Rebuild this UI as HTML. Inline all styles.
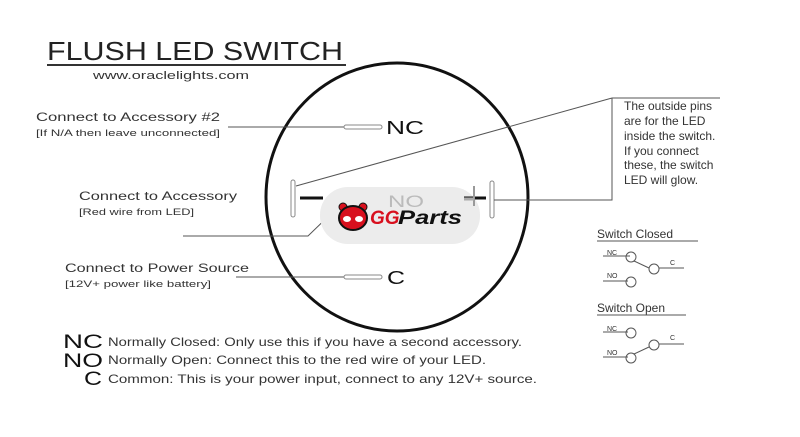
<!DOCTYPE html>
<html><head><style>
body{margin:0;background:#fff}
svg text{font-family:"Liberation Sans",sans-serif}
</style></head><body>
<svg width="800" height="432" viewBox="0 0 800 432" xmlns="http://www.w3.org/2000/svg">
<rect width="800" height="432" fill="#fff"/>
<text x="47" y="60" font-size="26" fill="#222" textLength="296" lengthAdjust="spacingAndGlyphs">FLUSH LED SWITCH</text>
<line x1="47" y1="65" x2="346" y2="65" stroke="#333" stroke-width="2"/>
<text x="93" y="79" font-size="11" fill="#333" textLength="156" lengthAdjust="spacingAndGlyphs">www.oraclelights.com</text>
<ellipse cx="397" cy="197" rx="131" ry="134" fill="none" stroke="#111" stroke-width="3"/>
<text x="36" y="121" font-size="12" fill="#333" textLength="184" lengthAdjust="spacingAndGlyphs">Connect to Accessory #2</text>
<text x="36" y="136" font-size="9" fill="#333" textLength="184" lengthAdjust="spacingAndGlyphs">[If N/A then leave unconnected]</text>
<text x="79" y="200" font-size="12" fill="#333" textLength="158" lengthAdjust="spacingAndGlyphs">Connect to Accessory</text>
<text x="79" y="215" font-size="9" fill="#333" textLength="115" lengthAdjust="spacingAndGlyphs">[Red wire from LED]</text>
<text x="65" y="272" font-size="12" fill="#333" textLength="184" lengthAdjust="spacingAndGlyphs">Connect to Power Source</text>
<text x="65" y="287" font-size="9" fill="#333" textLength="146" lengthAdjust="spacingAndGlyphs">[12V+ power like battery]</text>
<line x1="228" y1="127" x2="344" y2="127" stroke="#555" stroke-width="1"/>
<rect x="344" y="125" width="38" height="4" rx="2" fill="#fff" stroke="#888"/>
<text x="386" y="134" font-size="18" fill="#111" textLength="38" lengthAdjust="spacingAndGlyphs">NC</text>
<line x1="236" y1="277" x2="344" y2="277" stroke="#555" stroke-width="1"/>
<rect x="344" y="275" width="38" height="4" rx="2" fill="#fff" stroke="#888"/>
<text x="387" y="284" font-size="18" fill="#111" textLength="18" lengthAdjust="spacingAndGlyphs">C</text>
<polyline points="183,236 308,236 340,205" fill="none" stroke="#555" stroke-width="1"/>
<rect x="291" y="180" width="4" height="37" rx="2" fill="#fff" stroke="#888"/>
<rect x="490" y="181" width="4" height="37" rx="2" fill="#fff" stroke="#888"/>
<line x1="296" y1="186" x2="612" y2="98" stroke="#555" stroke-width="1"/>
<polyline points="612,98 720,98" fill="none" stroke="#555" stroke-width="1"/>
<polyline points="494,200 612,200 612,98" fill="none" stroke="#555" stroke-width="1"/>
<rect x="320" y="187" width="160" height="57" rx="28" fill="#ececec"/>
<line x1="300" y1="198" x2="323" y2="198" stroke="#111" stroke-width="3"/>
<line x1="464" y1="198" x2="486" y2="198" stroke="#111" stroke-width="3"/>
<line x1="474" y1="186" x2="474" y2="206" stroke="#999" stroke-width="2"/>
<line x1="464" y1="199" x2="474" y2="199" stroke="#aaa" stroke-width="3"/>
<text x="388" y="207" font-size="17" fill="#bbb" textLength="36" lengthAdjust="spacingAndGlyphs">NO</text>
<g>
<circle cx="343" cy="207" r="4" fill="#d8101e" stroke="#111"/>
<circle cx="363" cy="207" r="4" fill="#d8101e" stroke="#111"/>
<ellipse cx="353" cy="218" rx="14" ry="12" fill="#d8101e" stroke="#111" stroke-width="2"/>
<ellipse cx="347" cy="219" rx="4" ry="3" fill="#fff"/>
<ellipse cx="359" cy="219" rx="4" ry="3" fill="#fff"/>
</g>
<text x="370" y="224" font-size="19" font-weight="bold" font-style="italic" fill="#d8101e">GG</text>
<text x="398" y="224" font-size="19" font-weight="bold" font-style="italic" fill="#111" textLength="64" lengthAdjust="spacingAndGlyphs">Parts</text>
<g font-size="12" fill="#333">
<text x="624" y="110">The outside pins</text>
<text x="624" y="125">are for the LED</text>
<text x="624" y="140">inside the switch.</text>
<text x="624" y="155">If you connect</text>
<text x="624" y="169">these, the switch</text>
<text x="624" y="184">LED will glow.</text>
</g>
<text x="597" y="238" font-size="12" fill="#333">Switch Closed</text>
<line x1="597" y1="241" x2="698" y2="241" stroke="#555"/>
<g fill="none" stroke="#555" stroke-width="1">
<text x="607" y="255" font-size="7" fill="#333" stroke="none">NC</text>
<line x1="603" y1="256" x2="630" y2="256"/>
<circle cx="631" cy="257" r="5"/>
<line x1="634" y1="261" x2="649" y2="268"/>
<circle cx="654" cy="269" r="5"/>
<line x1="659" y1="268" x2="684" y2="268"/>
<text x="670" y="265" font-size="7" fill="#333" stroke="none">C</text>
<text x="607" y="278" font-size="7" fill="#333" stroke="none">NO</text>
<line x1="603" y1="281" x2="628" y2="281"/>
<circle cx="631" cy="282" r="5"/>
</g>
<text x="597" y="312" font-size="12" fill="#333">Switch Open</text>
<line x1="597" y1="315" x2="686" y2="315" stroke="#555"/>
<g fill="none" stroke="#555" stroke-width="1">
<text x="607" y="331" font-size="7" fill="#333" stroke="none">NC</text>
<line x1="603" y1="332" x2="628" y2="332"/>
<circle cx="631" cy="333" r="5"/>
<circle cx="654" cy="345" r="5"/>
<line x1="659" y1="344" x2="684" y2="344"/>
<text x="670" y="340" font-size="7" fill="#333" stroke="none">C</text>
<text x="607" y="355" font-size="7" fill="#333" stroke="none">NO</text>
<line x1="603" y1="357" x2="628" y2="357"/>
<circle cx="631" cy="358" r="5"/>
<line x1="634" y1="354" x2="649" y2="347"/>
</g>
<text x="63" y="348" font-size="19" fill="#111" textLength="40" lengthAdjust="spacingAndGlyphs">NC</text>
<text x="63" y="367" font-size="19" fill="#111" textLength="40" lengthAdjust="spacingAndGlyphs">NO</text>
<text x="84" y="385" font-size="19" fill="#111" textLength="18" lengthAdjust="spacingAndGlyphs">C</text>
<g font-size="12" fill="#333">
<text x="108" y="346" textLength="414" lengthAdjust="spacingAndGlyphs">Normally Closed: Only use this if you have a second accessory.</text>
<text x="108" y="364" textLength="378" lengthAdjust="spacingAndGlyphs">Normally Open: Connect this to the red wire of your LED.</text>
<text x="108" y="383" textLength="429" lengthAdjust="spacingAndGlyphs">Common: This is your power input, connect to any 12V+ source.</text>
</g>
</svg>
</body></html>
